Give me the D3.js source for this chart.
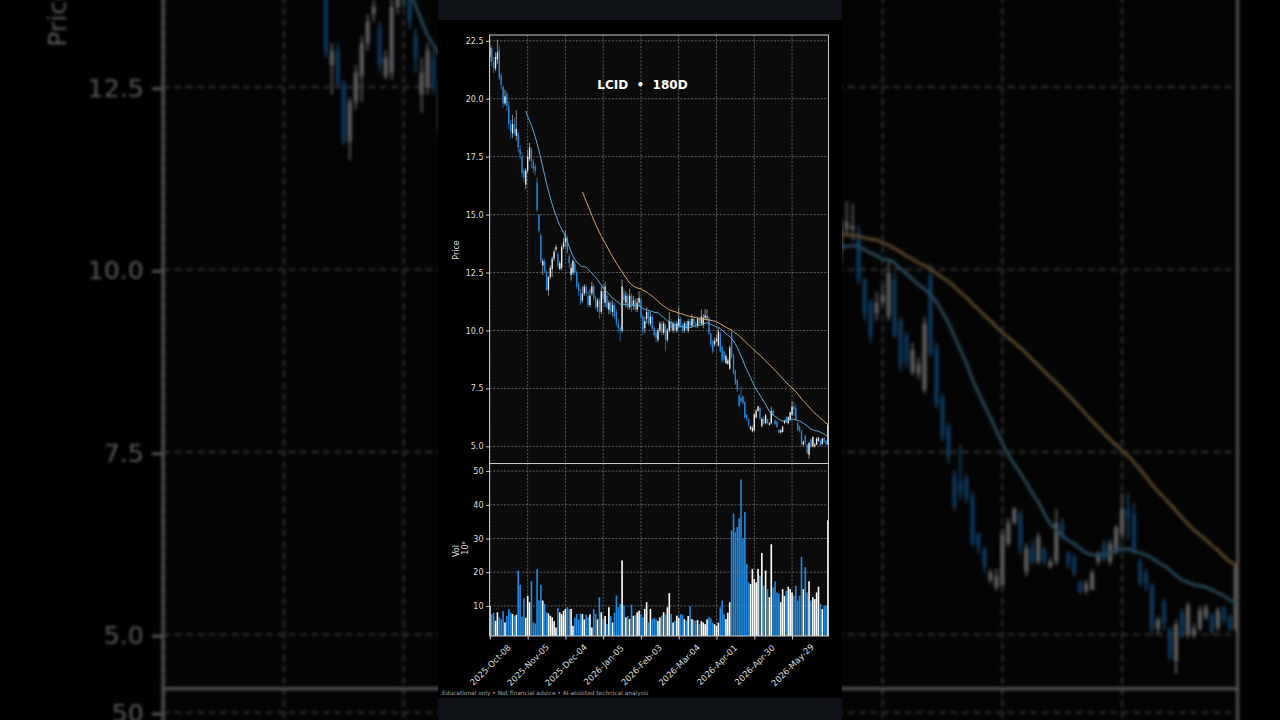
<!DOCTYPE html>
<html>
<head>
<meta charset="utf-8">
<title>LCID 180D</title>
<script src="https://d3js.org/d3.v7.min.js"></script>
<style>
	html, body { margin: 0; padding: 0; background: #000; overflow: hidden; }
	svg { display: block; font-family: "DejaVu Sans", sans-serif; }
</style>
</head>
<body>
<div id="frame"></div>
<script>
// Chart data
var ticker = "LCID";
var period = "180D";
var footer = "Educational only \u2022 Not financial advice \u2022 AI-assisted technical analysis";
var tickLabels = ["2025-Oct-08", "2025-Nov-05", "2025-Dec-04", "2026-Jan-05", "2026-Feb-03",
	"2026-Mar-04", "2026-Apr-01", "2026-Apr-30", "2026-May-29"];
var tickEvery = 20;
var maWindows = [20, 50];

var opens = [21.8, 22.2, 21.6, 21.3, 21.7, 22.1, 21.0, 20.5, 19.8, 20.2,
	19.7, 18.9, 18.5, 18.9, 18.4, 18.5, 17.8, 17.5, 16.9, 16.3,
	16.9, 17.4, 17.8, 17.3, 17.1, 16.4, 15.0, 14.1, 12.8, 13.0,
	12.55, 11.75, 12.3, 12.65, 13.1, 13.5, 13.3, 12.65, 12.7, 13.6,
	13.8, 14.0, 13.2, 12.4, 12.5, 12.9, 12.5, 12.0, 11.6, 11.3,
	11.6, 11.9, 11.5, 11.1, 11.6, 11.9, 11.4, 11.0, 11.3, 10.8,
	11.7, 11.2, 11.5, 10.9, 11.2, 10.8, 11.1, 10.8, 10.3, 10.1,
	10.0, 11.6, 11.2, 11.5, 11.0, 11.5, 11.1, 11.3, 10.9, 11.2,
	11.3, 10.6, 10.1, 10.5, 10.8, 10.3, 10.6, 10.1, 9.9, 9.6,
	10.0, 10.3, 9.9, 10.2, 9.6, 10.0, 10.4, 10.0, 10.3, 10.0,
	10.2, 10.5, 10.2, 10.0, 10.3, 10.0, 10.4, 10.2, 10.5, 10.3,
	10.2, 10.5, 10.3, 10.24, 10.55, 10.55, 10.52, 9.86, 9.55, 9.4,
	9.55, 9.36, 9.86, 9.29, 9.1, 8.6, 8.57, 8.35, 9.92, 8.92,
	8.26, 7.85, 7.19, 7.1, 7.15, 6.9, 6.37, 6.18, 5.75, 5.65,
	5.68, 6.25, 6.53, 6.65, 5.87, 6.2, 6.0, 6.18, 5.93, 6.0,
	6.53, 6.12, 6.06, 5.71, 5.6, 5.62, 6.0, 6.25, 6.0, 6.15,
	6.37, 6.72, 6.65, 6.0, 5.84, 5.68, 5.08, 5.45, 5.08, 4.64,
	5.3, 5.0, 5.0, 5.08, 5.24, 5.27, 5.1, 5.37, 5.24, 5.08];

var highs = [22.5, 22.3, 21.8, 22.0, 22.55, 22.3, 21.1, 20.6, 20.4, 20.3,
	19.9, 19.1, 19.3, 19.2, 19.5, 18.6, 18.0, 17.7, 17.0, 17.0,
	17.8, 18.1, 17.9, 17.4, 17.2, 16.6, 15.0, 14.2, 13.1, 13.1,
	12.6, 12.35, 12.8, 13.2, 13.5, 13.7, 13.4, 13.0, 13.7, 14.0,
	14.3, 14.1, 13.3, 12.9, 13.1, 13.0, 12.6, 12.1, 11.8, 11.9,
	12.0, 12.0, 11.7, 11.8, 12.1, 12.0, 11.5, 11.4, 11.4, 11.9,
	12.0, 12.1, 11.6, 11.3, 11.3, 11.3, 11.2, 10.9, 10.5, 10.2,
	12.2, 11.8, 11.7, 11.6, 11.8, 11.6, 11.5, 11.4, 11.4, 11.7,
	11.4, 10.7, 10.6, 11.0, 10.9, 10.8, 10.7, 10.2, 10.0, 10.1,
	10.4, 10.4, 10.4, 10.3, 10.1, 10.8, 10.5, 10.4, 10.4, 10.4,
	11.0, 10.6, 10.3, 10.4, 10.4, 10.5, 10.5, 10.7, 10.6, 10.4,
	10.6, 10.6, 10.9, 10.7, 10.93, 10.9, 10.6, 9.9, 9.6, 9.7,
	9.8, 10.1, 9.95, 9.35, 9.15, 9.0, 8.8, 9.35, 10.08, 9.0,
	8.3, 7.9, 7.25, 7.6, 7.2, 6.95, 6.4, 6.2, 5.9, 5.9,
	6.45, 6.6, 6.75, 6.7, 6.25, 6.3, 6.4, 6.2, 6.05, 6.72,
	6.6, 6.15, 6.1, 5.75, 5.75, 5.9, 6.15, 6.3, 6.3, 6.5,
	6.94, 6.94, 6.8, 6.05, 5.9, 5.7, 5.25, 5.5, 5.1, 5.2,
	5.35, 5.45, 5.15, 5.4, 5.42, 5.3, 5.38, 5.4, 5.28, 5.98];

var lows = [21.6, 21.4, 21.1, 21.2, 21.5, 20.8, 20.4, 19.6, 19.7, 19.5,
	18.7, 18.3, 18.3, 18.4, 18.2, 17.7, 17.4, 16.6, 16.4, 16.1,
	16.8, 17.3, 17.0, 16.8, 16.7, 15.1, 14.2, 12.9, 12.4, 12.5,
	11.7, 11.5, 12.2, 12.3, 13.0, 13.4, 12.7, 12.6, 12.6, 13.5,
	13.6, 13.3, 12.7, 12.15, 12.4, 12.4, 11.8, 11.5, 11.1, 11.2,
	11.5, 11.5, 11.0, 11.0, 11.5, 11.3, 10.9, 10.8, 10.5, 10.7,
	11.2, 11.0, 10.9, 10.7, 10.7, 10.6, 10.5, 10.2, 9.9, 9.55,
	9.9, 11.1, 11.0, 10.9, 10.9, 10.8, 10.9, 10.8, 10.8, 11.0,
	10.5, 9.8, 9.9, 10.3, 10.2, 10.2, 10.0, 9.7, 9.5, 9.5,
	9.9, 9.8, 9.8, 9.1, 9.5, 9.9, 10.0, 9.9, 9.9, 9.9,
	10.1, 10.1, 9.9, 9.9, 10.0, 9.9, 10.1, 10.1, 10.2, 10.1,
	10.1, 10.2, 10.2, 10.1, 10.45, 10.4, 9.8, 9.3, 9.0, 9.3,
	9.5, 9.3, 9.05, 8.6, 8.65, 8.55, 8.5, 8.3, 8.8, 8.1,
	7.65, 7.35, 6.7, 6.85, 6.8, 6.2, 6.1, 5.85, 5.7, 5.6,
	5.65, 6.2, 6.5, 6.1, 5.8, 5.95, 5.95, 5.95, 5.9, 5.95,
	6.3, 5.9, 5.8, 5.55, 5.55, 5.6, 5.95, 6.0, 5.95, 6.1,
	6.3, 6.3, 6.1, 5.65, 5.6, 5.0, 5.0, 5.05, 4.65, 4.46,
	4.95, 4.95, 4.95, 5.05, 5.2, 5.0, 5.05, 5.15, 5.05, 5.05];

var closes = [22.2, 21.6, 21.3, 21.8, 22.0, 20.9, 20.6, 19.8, 20.1, 19.7,
	18.9, 18.6, 18.9, 18.5, 18.7, 17.9, 17.6, 16.8, 16.6, 16.9,
	17.5, 17.9, 17.3, 17.0, 16.9, 15.2, 14.3, 13.0, 13.0, 12.55,
	11.75, 12.3, 12.7, 13.1, 13.4, 13.6, 12.8, 12.9, 13.6, 13.8,
	14.1, 13.4, 12.9, 12.7, 13.0, 12.5, 11.9, 11.7, 11.2, 11.6,
	11.9, 11.6, 11.1, 11.5, 11.9, 11.4, 11.0, 11.3, 10.8, 11.7,
	11.4, 11.9, 11.0, 11.2, 10.8, 11.1, 10.6, 10.3, 10.1, 10.0,
	11.9, 11.3, 11.5, 11.0, 11.5, 11.1, 11.3, 10.9, 11.2, 11.4,
	10.6, 10.0, 10.4, 10.8, 10.3, 10.6, 10.1, 9.8, 9.7, 10.0,
	10.3, 9.9, 10.3, 9.6, 10.0, 10.4, 10.1, 10.3, 10.0, 10.3,
	10.5, 10.2, 10.0, 10.3, 10.1, 10.4, 10.2, 10.5, 10.3, 10.2,
	10.5, 10.3, 10.6, 10.55, 10.65, 10.6, 9.86, 9.39, 9.1, 9.55,
	9.65, 9.95, 9.1, 8.7, 8.75, 8.9, 8.7, 9.26, 8.85, 8.16,
	7.72, 7.44, 6.75, 6.95, 6.87, 6.25, 6.2, 5.93, 5.85, 5.8,
	6.37, 6.53, 6.72, 6.2, 6.18, 6.0, 6.34, 6.0, 6.0, 6.53,
	6.34, 5.96, 5.84, 5.59, 5.7, 5.84, 6.1, 6.03, 6.25, 6.47,
	6.72, 6.6, 6.15, 5.71, 5.68, 5.08, 5.2, 5.16, 4.71, 5.14,
	4.99, 5.4, 5.08, 5.33, 5.37, 5.05, 5.33, 5.2, 5.08, 5.93];

// Volume in millions of shares
var volumes = [10.0, 7.6, 8.0, 5.6, 8.1, 6.6, 6.0, 8.4, 5.1, 7.0,
	9.1, 8.0, 7.6, 7.0, 7.4, 20.5, 16.3, 6.8, 12.3, 6.5,
	13.0, 11.1, 17.3, 5.1, 4.8, 20.9, 11.6, 16.3, 11.6, 10.6,
	8.1, 7.8, 7.1, 6.6, 5.5, 3.6, 9.4, 8.1, 7.6, 8.5,
	9.1, 9.6, 9.0, 9.1, 4.1, 6.5, 7.6, 6.0, 7.8, 7.6,
	6.0, 7.4, 6.6, 7.5, 3.6, 9.1, 7.6, 6.0, 12.6, 8.1,
	6.1, 7.0, 4.6, 9.6, 7.0, 5.1, 8.0, 13.1, 9.6, 10.6,
	23.5, 10.1, 6.6, 7.0, 6.1, 10.4, 7.1, 7.3, 8.1, 8.6,
	7.5, 6.6, 9.1, 11.1, 5.1, 9.1, 6.1, 6.5, 6.1, 5.6,
	6.6, 7.1, 8.1, 7.5, 9.6, 13.8, 7.6, 5.1, 5.6, 7.1,
	6.5, 7.6, 7.4, 6.1, 5.6, 7.0, 9.9, 6.1, 5.8, 5.6,
	5.8, 4.6, 5.5, 5.1, 4.6, 6.0, 6.8, 6.3, 5.0, 4.6,
	4.1, 5.0, 9.6, 11.6, 7.6, 6.1, 8.0, 11.1, 32.4, 37.4,
	31.9, 33.4, 36.0, 47.5, 30.0, 37.9, 22.5, 17.0, 16.5, 21.0,
	18.0, 17.0, 21.0, 19.0, 25.7, 16.0, 20.5, 15.0, 12.6, 28.3,
	15.5, 17.3, 14.0, 13.6, 11.1, 15.0, 13.0, 14.5, 15.7, 15.0,
	14.0, 13.1, 16.0, 11.6, 13.0, 24.5, 15.0, 21.5, 14.0, 17.3,
	11.6, 12.6, 12.0, 14.0, 15.7, 10.6, 9.1, 10.1, 10.1, 35.4];

function movingAverage(values, n) {
	return values.map(function(v, i) {
		if (i < n - 1) return null;
		return { i: i, value: d3.mean(values.slice(i - n + 1, i + 1)) };
	}).filter(function(d) { return d; });
}

function candleChart() {
	var chart = {},
			selector = "#frame",
			width = 1280,
			height = 720,
			card = {left: 438, width: 404, bandTop: 20, bandBottom: 698},
			plot = {left: 489.5, right: 828.5, top: 35, split: 463.5, bottom: 636},
			// side backdrop: the card blown up behind it
			zoom = {sx: 3.17, sy: 3.15, tx: 1388.7, ty: 771.4},
			upColor = "#ececec",
			upWick = "#bdbdbd",
			downColor = "#1f8ae2",
			downWick = "#2f86cc",
			maColors = ["#5faad4", "#d9a66a"],
			gridColor = "#6b6b6b",
			textColor = "#dedede";

	chart.render = function() {
		var n = closes.length;
		var rows = d3.range(n).map(function(i) {
			return {i: i, o: opens[i], h: highs[i], l: lows[i], c: closes[i], v: volumes[i], up: closes[i] >= opens[i]};
		});

		// Scales
		var xScale = d3.scaleLinear()
				.domain([-0.2, n - 0.7])
				.range([plot.left, plot.right]);
		var step = xScale(1) - xScale(0);

		var pricePad = 0.2;
		var yPrice = d3.scaleLinear()
				.domain([d3.min(lows) - pricePad, d3.max(highs) + pricePad])
				.range([plot.split, plot.top]);

		var yVol = d3.scaleLinear()
				.domain([0.3 * d3.min(volumes), 1.1 * d3.max(volumes)])
				.range([plot.bottom, plot.split]);

		var tickIdx = tickLabels.map(function(d, k) { return k * tickEvery; });

		var svg = d3.select(selector).append("svg")
				.attr("width", width)
				.attr("height", height);

		var defs = svg.append("defs");

		// Dimmed, blurred copy for the side backdrop
		var filter = defs.append("filter")
				.attr("id", "dim")
				.attr("color-interpolation-filters", "sRGB")
				.attr("filterUnits", "userSpaceOnUse")
				.attr("x", 0).attr("y", 0)
				.attr("width", width).attr("height", height);
		filter.append("feGaussianBlur").attr("stdDeviation", 1.6);
		var transfer = filter.append("feComponentTransfer");
		["feFuncR", "feFuncG", "feFuncB"].forEach(function(f) {
			transfer.append(f).attr("type", "linear").attr("slope", 0.4);
		});

		defs.append("clipPath").attr("id", "price-clip")
			.append("rect")
				.attr("x", plot.left)
				.attr("y", plot.top)
				.attr("width", plot.right - plot.left)
				.attr("height", plot.split - plot.top);

		svg.append("rect")
				.attr("width", width)
				.attr("height", height)
				.attr("fill", "#000");

		svg.append("g")
				.attr("filter", "url(#dim)")
			.append("use")
				.attr("href", "#card")
				.attr("transform", "translate(" + (-zoom.tx) + "," + (-zoom.ty) + ") scale(" + zoom.sx + "," + zoom.sy + ")");

		var g = svg.append("g").attr("id", "card");

		// Card background with dark bands
		g.append("rect")
				.attr("x", card.left)
				.attr("y", 0)
				.attr("width", card.width)
				.attr("height", height)
				.attr("fill", "#0e1116");
		g.append("rect")
				.attr("x", card.left)
				.attr("y", card.bandTop)
				.attr("width", card.width)
				.attr("height", card.bandBottom - card.bandTop)
				.attr("fill", "#000");

		// Panel faces
		g.append("rect")
				.attr("x", plot.left)
				.attr("y", plot.top)
				.attr("width", plot.right - plot.left)
				.attr("height", plot.bottom - plot.top)
				.attr("fill", "#0b0b0b");

		// Grid
		var grid = g.append("g").attr("class", "grid")
				.attr("stroke", gridColor)
				.attr("stroke-width", 0.8)
				.attr("stroke-dasharray", "2.2,1.4");

		grid.selectAll(".hp")
			.data(d3.range(5, 22.6, 2.5))
			.enter().append("line")
				.attr("x1", plot.left).attr("x2", plot.right)
				.attr("y1", function(d) { return yPrice(d); })
				.attr("y2", function(d) { return yPrice(d); });

		grid.selectAll(".hv")
			.data([10, 20, 30, 40, 50])
			.enter().append("line")
				.attr("x1", plot.left).attr("x2", plot.right)
				.attr("y1", function(d) { return yVol(d); })
				.attr("y2", function(d) { return yVol(d); });

		grid.selectAll(".vx")
			.data(tickIdx)
			.enter().append("line")
				.attr("x1", function(d) { return xScale(d); })
				.attr("x2", function(d) { return xScale(d); })
				.attr("y1", plot.top)
				.attr("y2", plot.bottom);

		// Candles
		var bodyW = step * 0.7;
		var candles = g.append("g")
				.attr("clip-path", "url(#price-clip)")
			.selectAll(".candle")
			.data(rows)
			.enter().append("g")
				.attr("class", "candle");

		candles.append("line")
				.attr("x1", function(d) { return xScale(d.i); })
				.attr("x2", function(d) { return xScale(d.i); })
				.attr("y1", function(d) { return yPrice(d.h); })
				.attr("y2", function(d) { return yPrice(d.l); })
				.attr("stroke", function(d) { return d.up ? upWick : downWick; })
				.attr("stroke-width", 0.7);

		candles.append("rect")
				.attr("x", function(d) { return xScale(d.i) - bodyW / 2; })
				.attr("y", function(d) { return yPrice(Math.max(d.o, d.c)); })
				.attr("width", bodyW)
				.attr("height", function(d) { return Math.max(0.7, Math.abs(yPrice(d.o) - yPrice(d.c))); })
				.attr("fill", function(d) { return d.up ? upColor : downColor; });

		// Moving averages
		var line = d3.line()
				.x(function(d) { return xScale(d.i); })
				.y(function(d) { return yPrice(d.value); });

		g.append("g")
				.attr("clip-path", "url(#price-clip)")
			.selectAll(".ma")
			.data(maWindows.map(function(w) { return movingAverage(closes, w); }))
			.enter().append("path")
				.attr("class", "ma")
				.attr("fill", "none")
				.attr("stroke", function(d, k) { return maColors[k]; })
				.attr("stroke-width", 1)
				.attr("d", line);

		// Volume bars
		var barW = step * 0.85;
		g.append("g").selectAll(".vol")
			.data(rows)
			.enter().append("rect")
				.attr("class", "vol")
				.attr("x", function(d) { return xScale(d.i) - barW / 2; })
				.attr("y", function(d) { return yVol(d.v); })
				.attr("width", barW)
				.attr("height", function(d) { return plot.bottom - yVol(d.v); })
				.attr("fill", function(d) { return d.up ? "#ffffff" : downColor; });

		// Spines
		[[plot.top, plot.split], [plot.split, plot.bottom]].forEach(function(p) {
			g.append("rect")
					.attr("x", plot.left)
					.attr("y", p[0])
					.attr("width", plot.right - plot.left)
					.attr("height", p[1] - p[0])
					.attr("fill", "none")
					.attr("stroke", "#c9c9c9")
					.attr("stroke-width", 1);
		});

		// Axes
		var priceAxis = d3.axisLeft(yPrice)
				.tickValues(d3.range(5, 22.6, 2.5))
				.tickFormat(d3.format(".1f"))
				.tickSize(3.5)
				.tickPadding(2.5);
		var volAxis = d3.axisLeft(yVol)
				.tickValues([10, 20, 30, 40, 50])
				.tickFormat(d3.format("d"))
				.tickSize(3.5)
				.tickPadding(2.5);
		var xAxis = d3.axisBottom(xScale)
				.tickValues(tickIdx)
				.tickFormat(function(d) { return tickLabels[d / tickEvery]; })
				.tickSize(3.5);

		g.append("g")
				.attr("transform", "translate(" + plot.left + ",0)")
				.call(priceAxis);
		g.append("g")
				.attr("transform", "translate(" + plot.left + ",0)")
				.call(volAxis);
		var xg = g.append("g")
				.attr("transform", "translate(0," + plot.bottom + ")")
				.call(xAxis);

		g.selectAll(".domain").remove();
		g.selectAll(".tick line").attr("stroke", "#c9c9c9");
		g.selectAll(".tick text")
				.attr("fill", textColor)
				.style("font-family", "DejaVu Sans")
				.style("font-size", "8px");

		xg.selectAll(".tick text")
				.attr("y", 0)
				.attr("dy", 0)
				.attr("text-anchor", "middle")
				.attr("dominant-baseline", "central")
				.attr("transform", "translate(0,29) rotate(-45)")
				.style("font-size", "8.5px");

		// Axis titles
		g.append("text")
				.attr("transform", "translate(459,250) rotate(-90)")
				.attr("text-anchor", "middle")
				.attr("fill", textColor)
				.style("font-size", "8px")
				.text("Price");
		g.append("text")
				.attr("transform", "translate(459,551) rotate(-90)")
				.attr("text-anchor", "middle")
				.attr("fill", textColor)
				.style("font-size", "8px")
				.text("Vol");
		g.append("text")
				.attr("transform", "translate(468,548) rotate(-90)")
				.attr("text-anchor", "middle")
				.attr("fill", textColor)
				.style("font-size", "8px")
				.text("10\u2076");

		// Title
		g.append("text")
				.attr("x", card.left + card.width / 2 + 2.5)
				.attr("y", 88.5)
				.attr("text-anchor", "middle")
				.attr("fill", "#ffffff")
				.style("font-size", "12px")
				.style("font-weight", "bold")
				.style("white-space", "pre")
				.text(ticker + "  \u2022  " + period);

		// Footer
		g.append("text")
				.attr("x", 442)
				.attr("y", 694.5)
				.attr("fill", "#a0a0a0")
				.style("font-size", "5.85px")
				.text(footer);
	};

	chart.selector = function(_) {
		if (!arguments.length) return selector;
		selector = _;
		return chart;
	};

	return chart;
}

candleChart().render();
</script>
</body>
</html>
